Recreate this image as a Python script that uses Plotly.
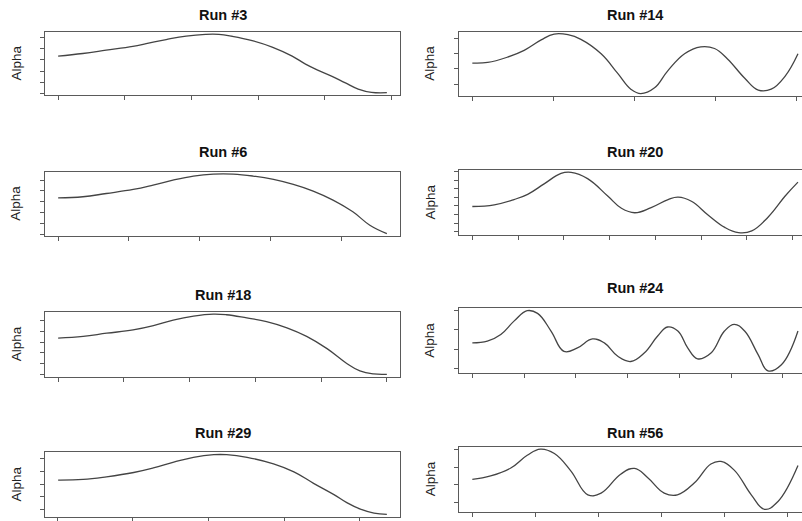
import plotly.graph_objects as go

# ---- data ----
titles = ["Run #3", "Run #14", "Run #6", "Run #20", "Run #18", "Run #24", "Run #29", "Run #56"]

run3_t = [0, 0.37, 0.72, 1.12, 1.32, 1.62, 1.92, 2.21, 2.41, 2.61, 2.91, 3.21, 3.51, 3.71, 3.91, 4.10, 4.30, 4.50, 4.70, 4.93]
run3_alpha = [3.34, 3.57, 3.86, 4.2, 4.43, 4.8, 5.11, 5.26, 5.26, 5.09, 4.71, 4.14, 3.34, 2.63, 2.06, 1.57, 1.0, 0.43, 0.14, 0.11]

run14_t = [0, 0.19, 0.43, 0.64, 0.85, 1.01, 1.18, 1.34, 1.59, 1.79, 1.96, 2.08, 2.25, 2.41, 2.62, 2.82, 2.99, 3.15, 3.36, 3.53, 3.69, 3.86, 4.02]
run14_alpha = [1.38, 1.42, 1.76, 2.21, 2.89, 3.27, 3.23, 2.93, 1.99, 0.74, -0.34, -0.61, -0.23, 0.86, 1.99, 2.44, 2.33, 1.65, 0.41, -0.38, -0.32, 0.52, 1.99]

run6_t = [0, 0.35, 0.68, 1.06, 1.34, 1.62, 1.91, 2.19, 2.47, 2.75, 3.04, 3.32, 3.6, 3.88, 4.16, 4.4, 4.64]
run6_alpha = [3.37, 3.47, 3.77, 4.14, 4.54, 5.0, 5.37, 5.55, 5.55, 5.37, 5.06, 4.6, 3.99, 3.16, 2.09, 0.86, 0.09]

run20_t = [0, 0.48, 0.91, 1.21, 1.57, 1.94, 2.16, 2.52, 2.96, 3.26, 3.55, 3.91, 4.28, 4.5, 4.79, 5.16, 5.52, 5.82, 6.11, 6.47, 6.84, 7.12]
run20_alpha = [2.93, 3.13, 3.74, 4.35, 5.57, 6.79, 6.91, 6.18, 4.15, 2.72, 2.2, 2.8, 3.74, 4.02, 3.54, 1.91, 0.49, -0.12, 0.08, 1.71, 4.15, 5.77]

run18_t = [0, 0.38, 0.74, 1.14, 1.45, 1.75, 2.06, 2.36, 2.56, 2.87, 3.17, 3.48, 3.78, 4.09, 4.39, 4.59, 4.8, 5.0]
run18_alpha = [3.37, 3.53, 3.83, 4.14, 4.54, 5.06, 5.43, 5.61, 5.55, 5.25, 4.91, 4.33, 3.53, 2.39, 1.01, 0.31, 0.03, 0.0]

run24_t = [0, 0.29, 0.55, 0.81, 1.06, 1.26, 1.52, 1.77, 2.03, 2.32, 2.55, 2.81, 3.06, 3.32, 3.58, 3.77, 3.97, 4.16, 4.35, 4.61, 4.87, 5.06, 5.26, 5.52, 5.71, 5.97, 6.29]
run24_alpha = [1.32, 1.41, 1.76, 2.47, 3.0, 2.86, 1.94, 0.88, 1.06, 1.53, 1.32, 0.62, 0.35, 0.79, 1.68, 2.15, 1.94, 1.06, 0.49, 0.79, 1.94, 2.29, 1.94, 0.71, -0.14, 0.18, 1.94]

run29_t = [0.01, 0.34, 0.65, 1.01, 1.27, 1.54, 1.8, 2.07, 2.24, 2.51, 2.86, 3.13, 3.39, 3.66, 3.83, 4.01, 4.19, 4.36]
run29_alpha = [2.32, 2.37, 2.58, 2.92, 3.28, 3.74, 4.13, 4.34, 4.34, 4.13, 3.61, 2.97, 2.06, 1.16, 0.52, 0.0, -0.31, -0.41]

run56_t = [0, 0.29, 0.61, 0.87, 1.08, 1.3, 1.56, 1.83, 2.04, 2.35, 2.57, 2.78, 3.04, 3.25, 3.52, 3.78, 3.94, 4.15, 4.42, 4.63, 4.84, 5.16]
run56_alpha = [1.31, 1.5, 1.95, 2.67, 3.02, 2.77, 1.79, 0.43, 0.53, 1.6, 1.93, 1.4, 0.53, 0.43, 1.11, 2.18, 2.32, 1.83, 0.43, -0.39, 0.04, 2.09]

# number of tick marks per panel (ticks carry no labels in the reference)
x_tick_counts = [6, 5, 5, 8, 6, 7, 5, 6]
y_tick_counts = [6, 4, 6, 8, 6, 4, 5, 4]

series_t = [run3_t, run14_t, run6_t, run20_t, run18_t, run24_t, run29_t, run56_t]
series_alpha = [run3_alpha, run14_alpha, run6_alpha, run20_alpha, run18_alpha, run24_alpha, run29_alpha, run56_alpha]

# ---- layout geometry (pixels) ----
W, H = 802, 521
left_frames = [(32, 95), (171.7, 236), (311.7, 376.7), (452.3, 516.7)]
right_frames = [(31.7, 96), (170, 235), (308.3, 373.3), (446.7, 511.7)]
left_title_y = [15, 151.7, 295, 433.3]
right_title_y = [15, 151.7, 288.3, 433.3]
LX0, LX1 = 45, 400
RX0, RX1_FULL = 459.3, 811

FRAME = "#5a5a5a"
CURVE = "#444444"
FONT = "Liberation Sans, Arial, Helvetica, sans-serif"

fig = go.Figure()
annotations = []
layout = {}

for i in range(8):
    row, col = divmod(i, 2)
    n = i + 1
    xa = "xaxis" if n == 1 else f"xaxis{n}"
    ya = "yaxis" if n == 1 else f"yaxis{n}"
    xr = "x" if n == 1 else f"x{n}"
    yr = "y" if n == 1 else f"y{n}"
    t = series_t[i]
    a = series_alpha[i]
    fig.add_trace(go.Scatter(x=t, y=a, mode="lines", xaxis=xr, yaxis=yr,
                             line=dict(color=CURVE, width=1.3, shape="spline", smoothing=1.2),
                             showlegend=False, hoverinfo="skip"))
    tmin, tmax = min(t), max(t)
    amin, amax = min(a), max(a)
    tspan = tmax - tmin
    aspan = amax - amin
    xlo = tmin - 0.04 * tspan
    xhi_full = tmax + 0.04 * tspan
    if col == 0:
        top, bot = left_frames[row]
        xdom = [LX0 / W, LX1 / W]
        xhi = xhi_full
    else:
        top, bot = right_frames[row]
        xdom = [RX0 / W, 1.0]
        frac = (W - RX0) / (RX1_FULL - RX0)
        xhi = xlo + frac * (xhi_full - xlo)
    ydom = [1 - bot / H, 1 - top / H]
    layout[xa] = dict(domain=xdom, range=[xlo, xhi], anchor=yr,
                      showgrid=False, zeroline=False, showticklabels=False,
                      showline=True, mirror=True, linecolor=FRAME, linewidth=1.2,
                      ticks="outside", ticklen=4, tickwidth=1, tickcolor=FRAME,
                      tickvals=list(range(x_tick_counts[i])))
    layout[ya] = dict(domain=ydom, range=[amin - 0.04 * aspan, amax + 0.04 * aspan], anchor=xr,
                      showgrid=False, zeroline=False, showticklabels=False,
                      showline=True, mirror=(col == 0), linecolor=FRAME, linewidth=1.2,
                      ticks="outside", ticklen=4, tickwidth=1, tickcolor=FRAME,
                      tickvals=list(range(y_tick_counts[i])))
    # title
    if col == 0:
        tx = (LX0 + LX1) / 2
        ty = left_title_y[row]
        lx = 16
    else:
        tx = (RX0 + RX1_FULL) / 2
        ty = right_title_y[row]
        lx = 430
    annotations.append(dict(text="<b>" + titles[i] + "</b>", x=tx / W, y=1 - ty / H,
                            xref="paper", yref="paper", xanchor="center", yanchor="middle",
                            showarrow=False, font=dict(family=FONT, size=14.5, color="#111111")))
    annotations.append(dict(text="Alpha", x=lx / W, y=1 - (top + bot) / 2 / H,
                            xref="paper", yref="paper", xanchor="center", yanchor="middle",
                            textangle=-90, showarrow=False,
                            font=dict(family=FONT, size=13.5, color="#222222")))

fig.update_layout(width=W, height=H, margin=dict(l=0, r=0, t=0, b=0),
                  paper_bgcolor="white", plot_bgcolor="white",
                  annotations=annotations, **layout)

fig.write_html("out.html")
